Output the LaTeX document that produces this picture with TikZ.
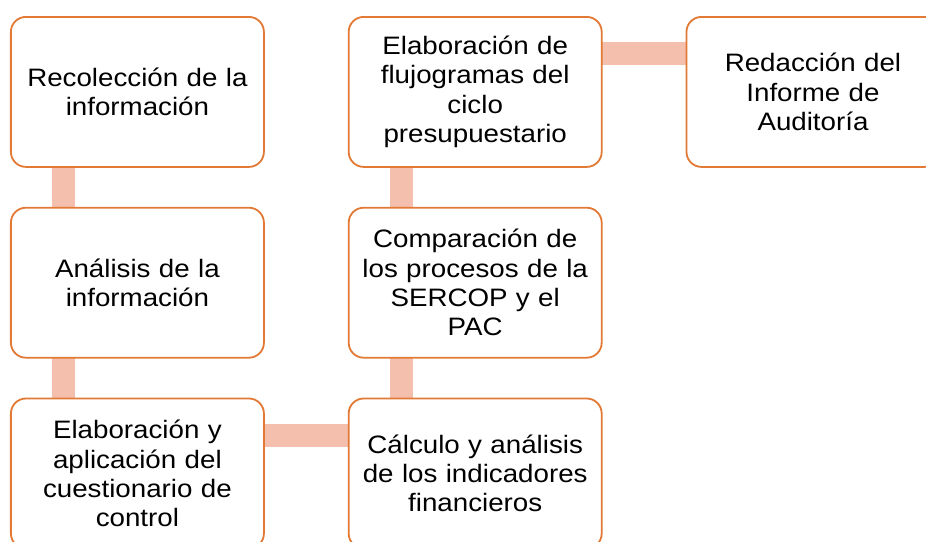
\documentclass[tikz,border=0pt]{standalone}
\usepackage{fontspec}
\setmainfont{Liberation Sans}[FakeStretch=1.1]
\usepackage{tikz}
\usetikzlibrary{calc}
\usetikzlibrary{backgrounds}
\usetikzlibrary{matrix}
\definecolor{boxorange}{RGB}{226,121,52}
\definecolor{linksalmon}{RGB}{244,191,172}

\begin{document}
\begin{tikzpicture}[ampersand replacement=\&,
	link/.style={draw=linksalmon,line width=23pt},
]
	\useasboundingbox (0pt,0pt) rectangle (926pt,-541pt);
	\matrix (m) at (10pt,-16pt) [
		matrix of nodes,
		anchor=north west,
		column sep=83pt,
		row sep=39pt,
		inner sep=0pt,
		outer sep=0pt,
		nodes={
			draw=boxorange,
			line width=1.8pt,
			fill=white,
			rounded corners=15pt,
			anchor=center,
			align=center,
			text width=240pt,
			inner sep=0pt,
			minimum width=253pt,
			minimum height=150pt,
			font=\fontsize{25.2}{29.3}\selectfont,
		},
	]
	{
		{Recolección de la\\información} \&
		{Elaboración de\\flujogramas del\\ciclo\\presupuestario} \&
		{Redacción del\\Informe de\\Auditoría} \\
		{Análisis de la\\información} \&
		{Comparación de\\los procesos de la\\SERCOP y el\\PAC} \& \\
		{Elaboración y\\aplicación del\\cuestionario de\\control} \&
		{Cálculo y análisis\\de los indicadores\\financieros} \& \\
	};
	\begin{scope}[on background layer]
		\draw[link] ([xshift=52.5pt]m-1-1.south west) -- ([xshift=52.5pt]m-2-1.north west);
		\draw[link] ([xshift=52.5pt]m-2-1.south west) -- ([xshift=52.5pt]m-3-1.north west);
		\draw[link] ([yshift=-36.5pt]m-3-1.north east) -- ([yshift=-36.5pt]m-3-2.north west);
		\draw[link] ([xshift=52.5pt]m-3-2.north west) -- ([xshift=52.5pt]m-2-2.south west);
		\draw[link] ([xshift=52.5pt]m-2-2.north west) -- ([xshift=52.5pt]m-1-2.south west);
		\draw[link] ([yshift=-36.5pt]m-1-2.north east) -- ([yshift=-36.5pt]m-1-3.north west);
	\end{scope}
\end{tikzpicture}
\end{document}
